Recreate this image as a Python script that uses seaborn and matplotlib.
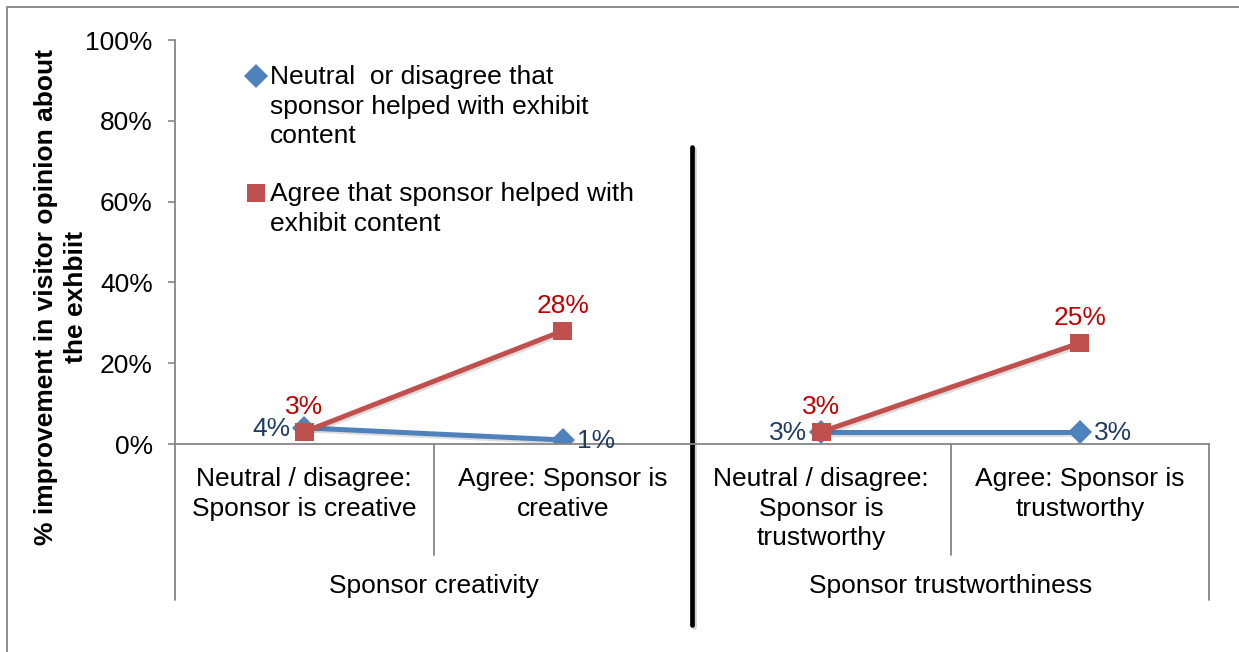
import matplotlib
matplotlib.use("Agg")
import numpy as np
import pandas as pd
import matplotlib.pyplot as plt
import matplotlib.patheffects as pe
from matplotlib.lines import Line2D
from matplotlib.patches import Rectangle
from matplotlib.ticker import PercentFormatter, FixedLocator
import seaborn as sns

# ---- data -------------------------------------------------------------
categories = [
    "Neutral / disagree:\nSponsor is creative",
    "Agree: Sponsor is\ncreative",
    "Neutral / disagree:\nSponsor is\ntrustworthy",
    "Agree: Sponsor is\ntrustworthy",
]
groups = ["Sponsor creativity", "Sponsor creativity",
          "Sponsor trustworthiness", "Sponsor trustworthiness"]
series_names = [
    "Neutral  or disagree that\nsponsor helped with exhibit\ncontent",
    "Agree that sponsor helped with\nexhibit content",
]
neutral_values = [0.04, 0.01, 0.03, 0.03]
agree_values = [0.03, 0.28, 0.03, 0.25]
y_ticks = [0.0, 0.2, 0.4, 0.6, 0.8, 1.0]
y_label = "% improvement in visitor opinion about\nthe exhbiit"

# ---- styling ----------------------------------------------------------
sns.set_theme(style="white")
plt.rcParams["font.family"] = ["Liberation Sans", "DejaVu Sans"]
plt.rcParams["text.color"] = "black"
plt.rcParams["axes.labelcolor"] = "black"
plt.rcParams["xtick.color"] = "black"
plt.rcParams["ytick.color"] = "black"

FS = 19
LS = 1.3
BLUE, RED = "#4F81BD", "#C0504D"
BLUE_TXT, RED_TXT = "#1F3B63", "#C00000"
GRID = "#868686"

W, H = 1239, 652
fig = plt.figure(figsize=(W / 100, H / 100), dpi=100)
ax = fig.add_axes([175 / W, 1 - 444 / H, 1034 / W, 404 / H])

rows = []
for name, vals in zip(series_names, [neutral_values, agree_values]):
    for i, (cat, grp, v) in enumerate(zip(categories, groups, vals)):
        rows.append({"pos": i, "category": cat, "group": grp,
                     "series": name, "value": v})
df = pd.DataFrame(rows)

sns.lineplot(
    data=df, x="pos", y="value", hue="series", style="series",
    units="group", estimator=None, ax=ax,
    hue_order=series_names, style_order=series_names,
    palette={series_names[0]: BLUE, series_names[1]: RED},
    markers={series_names[0]: "D", series_names[1]: "s"},
    dashes=False, linewidth=3.6, markeredgewidth=0, legend=False,
)
shadow = [pe.SimpleLineShadow(offset=(1.2, -1.5), alpha=0.18, shadow_color="#444444"),
          pe.Normal()]
for ln in ax.lines:
    ln.set_markersize(12 if ln.get_marker() == "D" else 13.5)
    ln.set_path_effects(shadow)

# ---- value labels -----------------------------------------------------
blue_side = ["left", "right", "left", "right"]
for i, v in enumerate(neutral_values):
    dx = -10 if blue_side[i] == "left" else 10
    ax.annotate(f"{v:.0%}", (i, v), xytext=(dx, -1), textcoords="offset points",
                ha="right" if dx < 0 else "left", va="center",
                fontsize=FS, color=BLUE_TXT, annotation_clip=False)
for i, v in enumerate(agree_values):
    ax.annotate(f"{v:.0%}", (i, v), xytext=(0, 18), textcoords="offset points",
                ha="center", va="center", fontsize=FS, color=RED_TXT,
                annotation_clip=False)

# ---- axes -------------------------------------------------------------
ax.set_xlim(-0.5, len(categories) - 0.5)
ax.set_ylim(0, 1)
ax.yaxis.set_major_locator(FixedLocator(y_ticks))
ax.yaxis.set_major_formatter(PercentFormatter(1.0, decimals=0))
ax.set_xticks(range(len(categories)))
ax.set_xticklabels(categories, fontsize=FS, linespacing=LS)
ax.tick_params(axis="x", length=0, pad=16.5)
ax.tick_params(axis="y", length=5, width=1.2, color=GRID, pad=11, labelsize=FS,
               left=True)
ax.set_xlabel("")
for side in ["top", "right"]:
    ax.spines[side].set_visible(False)
for side in ["left", "bottom"]:
    ax.spines[side].set_color(GRID)
    ax.spines[side].set_linewidth(1.3)

ax.set_ylabel(y_label, fontsize=FS, fontweight="bold", va="center", linespacing=LS)
ax.yaxis.set_label_coords((61 - 175) / 1034, (444 - 297) / 404)

# category dividers of the two-level axis
short_y, long_y = -0.275, -0.386
ax.axvline(-0.5, ymin=long_y, ymax=0, color=GRID, lw=1.3, clip_on=False)
for i in range(len(categories)):
    last = i == len(categories) - 1
    new_group = last or groups[i] != groups[i + 1]
    ax.axvline(i + 0.5, ymin=long_y if new_group else short_y, ymax=0,
               color=GRID, lw=1.3, clip_on=False)

# group labels
for g in dict.fromkeys(groups):
    idx = [i for i, gg in enumerate(groups) if gg == g]
    ax.text(np.mean(idx), -0.352, g, transform=ax.get_xaxis_transform(),
            ha="center", va="center", fontsize=FS)

# separator between the two groups
ax.axvline(1.5, ymin=-0.448, ymax=0.735, color="black", lw=3.4, clip_on=False,
           path_effects=[pe.SimpleLineShadow(offset=(1.5, -1.5), alpha=0.2),
                         pe.Normal()])

# ---- legend -----------------------------------------------------------
legend_items = [(series_names[0], BLUE, "D", 12, 76),
                (series_names[1], RED, "s", 13, 193)]
for name, col, mk, ms, ypix in legend_items:
    fig.add_artist(Line2D([256 / W], [1 - ypix / H], marker=mk, color=col,
                          markersize=ms, markeredgewidth=0, linestyle="none",
                          transform=fig.transFigure))
    fig.text(270 / W, 1 - (ypix - 11) / H, name, ha="left", va="top",
             fontsize=FS, linespacing=LS)

# outer chart frame
fig.add_artist(Rectangle((7 / W, -0.1), 1.2, 1.1 - 7 / H, transform=fig.transFigure,
                         fill=False, edgecolor="#8C8C8C", lw=1.4))

fig.savefig("out.png", dpi=100)
